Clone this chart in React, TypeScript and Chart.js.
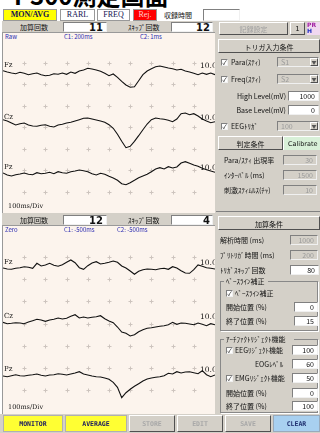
import React, { useEffect, useRef } from "react";
import { Chart, registerables } from "chart.js";
Chart.register(...registerables);

// ---- data ----
const timeMs = [0,20,40,60,80,100,120,140,160,180,200,220,240,260,280,300,320,340,360,380,400,420,440,460,480,500,520,540,560,580,600,620,640,660,680,700,720,740,760,780,800,820,840,860,880,900,920,940,960,980,1000];
const channels = ["Fz", "Cz", "Pz"];
const gainLabel = "10.0";

const rawFz = [1.3,0,-1,-1.7,-0.3,-1.3,-2.7,-1.7,-1,-2.7,-3.7,-3.3,-1.7,-2.3,-1,-2.3,0,-1.3,1,2,3.7,3,2,0.7,-1.3,-3.7,-2,-5.3,-9.3,-13,-15.3,-14.7,-8.7,-2.7,1,3.3,5.3,6,5,4,3.3,2,2.7,1,0,-1.3,-2.7,-1,-2.3,-1,-2.7];
const rawCz = [3.3,2,0,-2,-0.7,0,-2,-3,-3.3,-2.3,-1.7,-3.3,-4,-2,-1.3,0,0.7,2,3.3,4.7,5,4,3,2,0.7,-1.7,-5.3,-11.3,-18.3,-24.7,-23.3,-18.3,-12.7,-6.7,-1,3.3,5,4.3,3.7,2.7,1.3,4,9.3,10,8.3,9.3,7,4,2,0.3,1.3];
const rawPz = [0,-2,-3,-1.7,-1,0,-1.3,-1.7,0.3,-0.7,-0.3,0.7,-0.7,1.3,0.3,-0.3,1.3,2,3,2.3,1.3,-0.7,-2,-0.3,-1.3,-3.3,-5,-7.3,-10.7,-11.7,-9.7,-7.3,-4.7,-3,-1.3,1.3,4,5.3,4,6.3,5,6,10,11.3,9.7,8,6.7,4.7,3.3,2,0.7];

const zeroFz = [0,-1,-1.3,-0.3,0.3,1.3,0.7,-0.3,4.7,2,3,4.7,2.7,1.7,3.3,5.7,8,5.3,0.3,-1.3,2.3,5,6.3,4,4.7,5.7,7,5.7,2,0,-3,-6.3,-3.3,-1.7,-1,-1.3,-1.7,-0.7,-0.3,-1.3,1.3,0,-2.7,-5,-5.3,-1.7,3,1.7,0.3,-0.3,-1];
const zeroCz = [0.7,-0.7,-0.3,0.3,0,-0.7,1,2.3,3.7,3,1.7,3,3.7,5,4,4.7,6.7,8.3,5,6,5,5.7,6.3,7.3,4.3,2,0.3,-4,-9,-10.3,-13,-11.7,-8.7,-6.7,-5.3,-4.7,-4,-3.3,-2.7,-1.7,0.7,-1.3,0,-0.3,-1,-1.7,0,-1.3,-2.7,-0.7,-1.7];
const zeroPz = [-1,-1.7,-0.7,0.3,-0.7,-1,-0.3,0.3,1,-0.3,-1,0,0.3,1.3,0.7,0,1,2,3.3,1,0,-1,-1.7,-2,-3,-4.3,-7.3,-12.3,-22.7,-17.7,-14.3,-11.3,-8.7,-6,-4,-3,-2.3,-1.7,-0.7,1.7,1,3.3,2,3,3.3,2.3,1.3,4.3,0.3,-1.7,0];

const upperCounts = { add: "11", skip: "12" };
const lowerCounts = { add: "12", skip: "4" };

const F = "'Noto Sans CJK JP','Noto Sans',sans-serif";
const CREAM = "#fcf4ed";
const GRAY = "#d4d0c8";

const crossGrid = {
  id: "crossGrid",
  beforeDatasetsDraw(chart: any) {
    const { ctx, scales } = chart;
    const xs = scales.x;
    const yg = scales.yg;
    ctx.save();
    ctx.strokeStyle = "#cdc4be";
    ctx.lineWidth = 1;
    for (let xv = xs.min + 100; xv < xs.max; xv += 100) {
      for (let yv = yg.min + 1; yv < yg.max; yv += 1) {
        const px = Math.round(xs.getPixelForValue(xv)) + 0.5;
        const py = Math.round(yg.getPixelForValue(yv)) + 0.5;
        ctx.beginPath();
        ctx.moveTo(px - 2, py);
        ctx.lineTo(px + 2, py);
        ctx.moveTo(px, py - 2);
        ctx.lineTo(px, py + 2);
        ctx.stroke();
      }
    }
    ctx.restore();
  },
};

function Traces(props: { top: number; height: number; series: number[][]; ranges: number[][] }) {
  const ref = useRef<HTMLCanvasElement>(null);
  useEffect(() => {
    const ids = ["yFz", "yCz", "yPz"];
    const scales: any = {
      x: { type: "linear", min: 0, max: 1000, display: false },
      yg: { type: "linear", min: 0, max: 8, display: false },
    };
    ids.forEach((id, i) => {
      scales[id] = { type: "linear", min: props.ranges[i][0], max: props.ranges[i][1], display: false };
    });
    const chart = new Chart(ref.current!, {
      type: "line",
      data: {
        datasets: props.series.map((s, i) => ({
          label: channels[i],
          data: timeMs.map((t, k) => ({ x: t, y: s[k] })),
          yAxisID: ids[i],
          borderColor: "#111",
          borderWidth: 1.1,
          pointRadius: 0,
          tension: 0,
          fill: false,
        })),
      },
      options: {
        animation: false,
        responsive: false,
        events: [],
        layout: { padding: 0 },
        plugins: { legend: { display: false }, tooltip: { enabled: false } },
        scales,
      },
      plugins: [crossGrid],
    } as any);
    return () => chart.destroy();
  }, []);
  return (
    <canvas
      ref={ref}
      width={212}
      height={props.height}
      style={{ position: "absolute", left: 3, top: props.top, width: 212, height: props.height }}
    />
  );
}

type AP = { l: number; t: number; w: number; h: number; s?: React.CSSProperties; children?: React.ReactNode };
const A = ({ l, t, w, h, s, children }: AP) => (
  <div
    style={{
      position: "absolute", left: l, top: t, width: w, height: h, boxSizing: "border-box",
      fontFamily: F, fontSize: 7, lineHeight: h + "px", whiteSpace: "nowrap", overflow: "hidden", color: "#111",
      ...s,
    }}
  >
    {children}
  </div>
);

const raised: React.CSSProperties = {
  background: GRAY, borderTop: "1px solid #fff", borderLeft: "1px solid #fff",
  borderRight: "1px solid #505050", borderBottom: "1px solid #505050",
};
const sunken: React.CSSProperties = {
  background: "#fff", borderTop: "1px solid #808080", borderLeft: "1px solid #808080",
  borderRight: "1px solid #f0f0f0", borderBottom: "1px solid #f0f0f0",
};

const Input = ({ l, t, w, v, dis }: { l: number; t: number; w: number; v: string; dis?: boolean }) => (
  <A l={l} t={t} w={w} h={10} s={{ ...sunken, background: dis ? GRAY : "#fff", color: dis ? "#9a9a9a" : "#111", textAlign: "right", paddingRight: 3, lineHeight: "8px" }}>
    {v}
  </A>
);

const Combo = ({ t, v }: { t: number; v: string }) => (
  <>
    <A l={277} t={t} w={42} h={10} s={{ ...sunken, background: GRAY, color: "#9a9a9a", paddingLeft: 3, lineHeight: "8px" }}>{v}</A>
    <A l={310} t={t + 1} w={8} h={8} s={{ ...raised, fontSize: 5, textAlign: "center", lineHeight: "6px", color: "#555" }}>▼</A>
  </>
);

const Check = ({ l, t }: { l: number; t: number }) => (
  <A l={l} t={t} w={7} h={7} s={{ ...sunken, fontSize: 6, lineHeight: "5px", textAlign: "center", color: "#000" }}>✓</A>
);

const Lbl = ({ l, t, text, w = 70, s }: { l: number; t: number; text: string; w?: number; s?: React.CSSProperties }) => (
  <A l={l} t={t} w={w} h={10} s={s}>{text}</A>
);

function PanelHeader({ t, add, skip }: { t: number; add: string; skip: string }) {
  return (
    <>
      <A l={2} t={t} w={213} h={12} s={{ background: GRAY, borderBottom: "1px solid #999" }} />
      <A l={20} t={t} w={40} h={12}>加算回数</A>
      <A l={63} t={t + 1} w={44} h={10} s={{ ...sunken, textAlign: "right", paddingRight: 3, fontSize: 10, fontWeight: 700, lineHeight: "9px", fontFamily: "'DejaVu Sans',sans-serif" }}>{add}</A>
      <A l={128} t={t} w={42} h={12}>ｽｷｯﾌﾟ回数</A>
      <A l={171} t={t + 1} w={42} h={10} s={{ ...sunken, textAlign: "right", paddingRight: 2, fontSize: 10, fontWeight: 700, lineHeight: "9px", fontFamily: "'DejaVu Sans',sans-serif" }}>{skip}</A>
    </>
  );
}

function ChanLabels({ ys }: { ys: number[] }) {
  return (
    <>
      {ys.map((y, i) => (
        <React.Fragment key={i}>
          <A l={4} t={y} w={14} h={9} s={{ fontSize: 7, fontFamily: "'DejaVu Serif',serif", background: "transparent" }}>{channels[i]}</A>
          <A l={200} t={y} w={15} h={9} s={{ fontSize: 7.5, fontFamily: "'DejaVu Serif',serif" }}>{gainLabel}</A>
        </React.Fragment>
      ))}
    </>
  );
}

const btnFont: React.CSSProperties = { fontFamily: "'DejaVu Sans Mono',monospace", fontSize: 6.5, fontWeight: 700, textAlign: "center" };

export default function App() {
  return (
    <div style={{ position: "fixed", left: 0, top: 0, width: 320, height: 433, overflow: "hidden", background: "#fff" }}>
      {/* title */}
      <div style={{ position: "absolute", left: 14, top: -17, fontSize: 24, fontWeight: 700, fontFamily: F, lineHeight: "24px", color: "#000", whiteSpace: "nowrap" }}>P300測定画面</div>

      {/* top buttons */}
      <A l={3} t={9} w={54} h={12} s={{ background: "#ffff00", border: "1px solid #999", textAlign: "center", fontFamily: "'Liberation Serif',serif", fontWeight: 700, fontSize: 8, color: "#101050", lineHeight: "10px" }}>MON/AVG</A>
      <A l={60} t={9} w={35} h={12} s={{ background: "#fff", border: "1px solid #999", textAlign: "center", fontFamily: "'Liberation Serif',serif", fontSize: 8, color: "#101050", lineHeight: "10px" }}>RARL</A>
      <A l={97} t={9} w={33} h={12} s={{ background: "#fff", border: "1px solid #999", textAlign: "center", fontFamily: "'Liberation Serif',serif", fontSize: 8, color: "#101050", lineHeight: "10px" }}>FREQ</A>
      <A l={133} t={9} w={24} h={12} s={{ background: "#ff0000", border: "1px solid #999", textAlign: "center", fontFamily: "'Liberation Serif',serif", fontSize: 8, color: "#ffd0d0", lineHeight: "10px" }}>Rej.</A>
      <A l={164} t={9} w={38} h={12}>収録時間</A>
      <A l={203} t={9} w={37} h={12} s={{ ...sunken }} />

      {/* panel backgrounds */}
      <A l={216} t={21} w={104} h={394} s={{ background: GRAY }} />
      <A l={2} t={21} w={214} h={394} s={{ background: GRAY }} />

      {/* upper panel */}
      <PanelHeader t={21} add={upperCounts.add} skip={upperCounts.skip} />
      <A l={2} t={33} w={213} h={180} s={{ background: CREAM, borderLeft: "1px solid #999" }} />
      <A l={5} t={33} w={30} h={8} s={{ color: "#2a2ab0", fontSize: 6 }}>Raw</A>
      <A l={64} t={33} w={50} h={8} s={{ color: "#2a2ab0", fontSize: 6 }}>C1: 200ms</A>
      <A l={140} t={33} w={50} h={8} s={{ color: "#2a2ab0", fontSize: 6 }}>C2: 1ms</A>
      <Traces top={41} height={172} series={[rawFz, rawCz, rawPz]} ranges={[[-141, 31], [-90, 82], [-40, 132]]} />
      <ChanLabels ys={[61, 113, 163]} />
      <A l={8} t={202} w={40} h={9} s={{ fontSize: 6.5, fontFamily: "'DejaVu Serif',serif" }}>100ms/Div</A>

      {/* lower panel */}
      <PanelHeader t={214} add={lowerCounts.add} skip={lowerCounts.skip} />
      <A l={2} t={226} w={213} h={188} s={{ background: CREAM, borderLeft: "1px solid #999" }} />
      <A l={5} t={226} w={30} h={8} s={{ color: "#2a2ab0", fontSize: 6 }}>Zero</A>
      <A l={64} t={226} w={50} h={8} s={{ color: "#2a2ab0", fontSize: 6 }}>C1: -500ms</A>
      <A l={117} t={226} w={50} h={8} s={{ color: "#2a2ab0", fontSize: 6 }}>C2: -500ms</A>
      <Traces top={235} height={177} series={[zeroFz, zeroCz, zeroPz]} ranges={[[-144, 33], [-89, 88], [-37, 140]]} />
      <ChanLabels ys={[258, 312, 365]} />
      <A l={8} t={403} w={40} h={9} s={{ fontSize: 6.5, fontFamily: "'DejaVu Serif',serif" }}>100ms/Div</A>

      {/* right panel top */}
      <A l={219} t={22} w={69} h={13} s={{ ...raised, textAlign: "center", color: "#a0a0a0" }}>記録設定</A>
      <A l={290} t={22} w={15} h={13} s={{ ...raised, textAlign: "center", fontFamily: "'DejaVu Sans',sans-serif" }}>1</A>
      <A l={307} t={22} w={13} h={13} s={{ background: "#f0d8f0", color: "#a020a0", fontSize: 6, lineHeight: "6px", fontWeight: 700, fontFamily: "'DejaVu Sans',sans-serif" }}>
        PR<br /><span style={{ color: "#2030c0" }}>H</span>
      </A>

      <A l={218} t={39} w={102} h={14} s={{ ...raised, textAlign: "center" }}>トリガ入力条件</A>
      <Check l={221} t={59} />
      <Lbl l={231} t={57} text="Para(ｽﾃｨ)" />
      <Combo t={57} v="S1" />
      <Check l={221} t={76} />
      <Lbl l={231} t={74} text="Freq(ｽﾃｨ)" />
      <Combo t={74} v="S2" />
      <Lbl l={228} t={91} w={58} text="High Level(mV)" s={{ textAlign: "right" }} />
      <Input l={288} t={91} w={31} v="1000" />
      <Lbl l={228} t={105} w={58} text="Base Level(mV)" s={{ textAlign: "right" }} />
      <Input l={288} t={105} w={31} v="0" />
      <Check l={221} t={123} />
      <Lbl l={231} t={121} text="EEGﾄﾘｶﾞ" />
      <Combo t={121} v="100" />

      <A l={218} t={136} w={65} h={14} s={{ ...raised, textAlign: "center" }}>判定条件</A>
      <A l={283} t={136} w={37} h={14} s={{ background: "#d8f0d8", borderTop: "1px solid #fff", borderLeft: "1px solid #fff", paddingLeft: 4, fontFamily: "'DejaVu Sans',sans-serif", fontSize: 6.5 }}>Calibrate</A>
      <Lbl l={224} t={155} text="Para/ｽﾃｨ 出現率" />
      <Input l={283} t={155} w={34} v="30" dis />
      <Lbl l={224} t={170} text="ｲﾝﾀｰﾊﾞﾙ (ms)" />
      <Input l={283} t={170} w={34} v="1500" dis />
      <Lbl l={224} t={185} text="刺激ｽﾃｨﾑﾙｽ(ﾁｬ)" />
      <Input l={283} t={185} w={34} v="10" dis />

      <A l={216} t={211} w={104} h={1} s={{ background: "#808080" }} />
      <A l={218} t={216} w={102} h={14} s={{ ...raised, textAlign: "center" }}>加算条件</A>
      <Lbl l={220} t={235} text="解析時間 (ms)" />
      <Input l={290} t={235} w={28} v="1000" dis />
      <Lbl l={220} t={250} text="ﾌﾟﾘﾄﾘｶﾞ時間 (ms)" />
      <Input l={290} t={250} w={28} v="200" dis />
      <Lbl l={220} t={265} text="ﾄﾘｶﾞｽｷｯﾌﾟ回数" />
      <Input l={290} t={265} w={29} v="80" />

      <A l={220} t={281} w={98} h={50} s={{ border: "1px solid #888", boxShadow: "1px 1px 0 #fff" }} />
      <A l={224} t={276} w={44} h={10} s={{ background: GRAY, paddingLeft: 2 }}>ﾍﾞｰｽﾗｲﾝ補正</A>
      <Check l={226} t={290} />
      <Lbl l={235} t={288} text="ﾍﾞｰｽﾗｲﾝ補正" />
      <Lbl l={226} t={302} text="開始位置 (%)" />
      <Input l={294} t={302} w={24} v="0" />
      <Lbl l={226} t={316} text="終了位置 (%)" />
      <Input l={294} t={316} w={24} v="15" />

      <A l={220} t={339} w={98} h={74} s={{ border: "1px solid #888", boxShadow: "1px 1px 0 #fff" }} />
      <A l={224} t={334} w={70} h={10} s={{ background: GRAY, paddingLeft: 2 }}>ｱｰﾁﾌｧｸﾄﾘｼﾞｪｸﾄ機能</A>
      <Check l={226} t={347} />
      <Lbl l={235} t={345} text="EEGﾘｼﾞｪｸﾄ機能" />
      <Input l={292} t={345} w={26} v="100" />
      <Lbl l={255} t={359} w={34} text="EOGﾚﾍﾞﾙ" />
      <Input l={292} t={359} w={26} v="60" />
      <Check l={226} t={375} />
      <Lbl l={235} t={373} text="EMGﾘｼﾞｪｸﾄ機能" />
      <Input l={292} t={373} w={26} v="50" />
      <Lbl l={226} t={388} text="開始位置 (%)" />
      <Input l={292} t={388} w={26} v="0" />
      <Lbl l={226} t={401} text="終了位置 (%)" />
      <Input l={292} t={401} w={26} v="100" />

      {/* bottom buttons */}
      <A l={0} t={414} w={320} h={19} s={{ background: GRAY }} />
      <A l={3} t={415} w={60} h={17} s={{ ...btnFont, background: "#ffff33", border: "1px solid #b0b0b0", color: "#202060" }}>MONITOR</A>
      <A l={65} t={415} w={62} h={17} s={{ ...btnFont, background: "#ffff33", border: "1px solid #b0b0b0", color: "#202060" }}>AVERAGE</A>
      <A l={129} t={415} w={46} h={17} s={{ ...btnFont, ...raised, color: "#a8a8a8" }}>STORE</A>
      <A l={177} t={415} w={46} h={17} s={{ ...btnFont, ...raised, color: "#a8a8a8" }}>EDIT</A>
      <A l={225} t={415} w={46} h={17} s={{ ...btnFont, ...raised, color: "#a8a8a8" }}>SAVE</A>
      <A l={273} t={415} w={47} h={17} s={{ ...btnFont, background: "#a8d0f0", border: "1px solid #9ab", color: "#203070" }}>CLEAR</A>
    </div>
  );
}
